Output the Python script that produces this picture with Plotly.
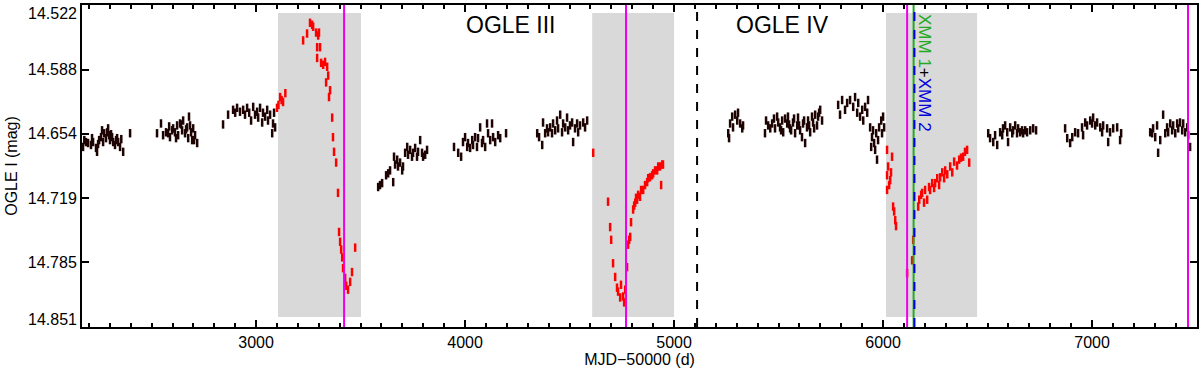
import plotly.graph_objects as go

# OGLE III / IV light curve, MJD-50000 vs I magnitude
# quiescent seasons (dark points)
s1_mjd = [2172, 2178, 2186, 2196, 2210, 2215, 2220, 2234, 2239, 2244, 2249, 2258, 2263, 2268, 2273, 2282,
          2287, 2292, 2297, 2301, 2306, 2311, 2316, 2325, 2330, 2335, 2340, 2349, 2355, 2364, 2397]
s1_mag = [14.667, 14.660, 14.662, 14.663, 14.665, 14.658, 14.662, 14.668, 14.672, 14.664, 14.660, 14.657,
          14.650, 14.662, 14.653, 14.658, 14.652, 14.648, 14.655, 14.660, 14.654, 14.657, 14.662, 14.665,
          14.660, 14.658, 14.662, 14.667, 14.659, 14.672, 14.653]

s2_mjd = [2526, 2545, 2555, 2569, 2579, 2584, 2588, 2598, 2603, 2612, 2617, 2622, 2627, 2636, 2641, 2646,
          2651, 2660, 2665, 2670, 2675, 2679, 2684, 2689, 2694, 2699, 2703, 2708, 2718]
s2_mag = [14.653, 14.643, 14.655, 14.652, 14.653, 14.646, 14.657, 14.650, 14.648, 14.652, 14.658, 14.645,
          14.655, 14.643, 14.644, 14.650, 14.640, 14.653, 14.649, 14.647, 14.658, 14.636, 14.645, 14.652,
          14.660, 14.648, 14.660, 14.655, 14.663]

s3_mjd = [2842, 2866, 2890, 2900, 2909, 2923, 2938, 2947, 2957, 2967, 2976, 2986, 2995, 3005, 3010, 3019,
          3029, 3033, 3043, 3053, 3057, 3067, 3077, 3081, 3086, 3091]
s3_mag = [14.644, 14.634, 14.629, 14.632, 14.627, 14.631, 14.629, 14.634, 14.627, 14.632, 14.640, 14.626,
          14.634, 14.631, 14.637, 14.627, 14.642, 14.632, 14.636, 14.629, 14.640, 14.634, 14.653, 14.643,
          14.632, 14.647]

s4_mjd = [3584, 3593, 3603, 3622, 3632, 3641, 3656, 3660, 3665, 3675, 3679, 3689, 3699, 3703, 3713, 3723,
          3727, 3737, 3746, 3751, 3761, 3770, 3775, 3785, 3794, 3799, 3809, 3818]
s4_mag = [14.708, 14.706, 14.704, 14.696, 14.694, 14.691, 14.703, 14.677, 14.685, 14.680, 14.687, 14.683,
          14.691, 14.687, 14.673, 14.667, 14.675, 14.670, 14.677, 14.673, 14.668, 14.677, 14.672, 14.660,
          14.673, 14.677, 14.675, 14.670]

s5_mjd = [3947, 3967, 3981, 3990, 4000, 4010, 4014, 4024, 4034, 4038, 4048, 4057, 4062, 4072, 4081, 4086,
          4096, 4105, 4110, 4120, 4129, 4134, 4144, 4158, 4168, 4196]
s5_mag = [14.667, 14.673, 14.677, 14.662, 14.657, 14.667, 14.663, 14.668, 14.660, 14.665, 14.657, 14.667,
          14.658, 14.647, 14.663, 14.660, 14.667, 14.643, 14.653, 14.660, 14.643, 14.657, 14.662, 14.655,
          14.658, 14.653]

s6_mjd = [4345, 4354, 4369, 4373, 4383, 4392, 4397, 4407, 4416, 4421, 4431, 4440, 4445, 4455, 4464, 4469,
          4479, 4488, 4493, 4502, 4512, 4517, 4526, 4536, 4541, 4550, 4565, 4574, 4584]
s6_mag = [14.653, 14.657, 14.665, 14.642, 14.653, 14.648, 14.652, 14.647, 14.653, 14.643, 14.650, 14.640,
          14.648, 14.634, 14.652, 14.643, 14.647, 14.637, 14.650, 14.645, 14.642, 14.662, 14.648, 14.643,
          14.652, 14.645, 14.642, 14.647, 14.640]

s7_mjd = [5259, 5263, 5268, 5278, 5282, 5292, 5302, 5306, 5316, 5326, 5330]
s7_mag = [14.653, 14.658, 14.643, 14.636, 14.647, 14.634, 14.640, 14.632, 14.643, 14.648, 14.645]

s8_mjd = [5435, 5440, 5450, 5460, 5469, 5478, 5483, 5493, 5498, 5507, 5512, 5517, 5522, 5531, 5541, 5545,
          5550, 5555, 5560, 5569, 5574, 5579, 5589, 5593, 5598, 5603, 5612, 5617, 5622, 5627, 5636, 5641,
          5646, 5651, 5660, 5665, 5670, 5675, 5684, 5689, 5694, 5699, 5708]
s8_mag = [14.653, 14.640, 14.645, 14.648, 14.643, 14.638, 14.648, 14.636, 14.642, 14.647, 14.650, 14.640,
          14.652, 14.638, 14.643, 14.636, 14.644, 14.648, 14.650, 14.642, 14.638, 14.653, 14.645, 14.637,
          14.645, 14.650, 14.657, 14.643, 14.640, 14.663, 14.647, 14.640, 14.645, 14.652, 14.636, 14.642,
          14.648, 14.634, 14.645, 14.636, 14.632, 14.629, 14.640]

s9_mjd = [5785, 5794, 5804, 5818, 5828, 5842, 5857, 5866, 5876, 5881, 5890, 5900, 5905, 5914, 5924, 5928,
          5938, 5943, 5947, 5952, 5957, 5962, 5967, 5971, 5976, 5981, 5991, 5995, 6000, 6005]
s9_mag = [14.624, 14.634, 14.619, 14.629, 14.622, 14.619, 14.626, 14.616, 14.632, 14.622, 14.636, 14.629,
          14.640, 14.626, 14.632, 14.619, 14.647, 14.667, 14.657, 14.650, 14.663, 14.670, 14.653, 14.680,
          14.660, 14.647, 14.640, 14.653, 14.636, 14.647]

s10_mjd = [6503, 6512, 6527, 6536, 6546, 6560, 6570, 6574, 6584, 6594, 6598, 6608, 6618, 6622, 6632, 6641,
           6646, 6656, 6665, 6670, 6680, 6689, 6704, 6718, 6732]
s10_mag = [14.653, 14.658, 14.662, 14.655, 14.665, 14.652, 14.655, 14.648, 14.645, 14.652, 14.662, 14.647,
           14.653, 14.650, 14.645, 14.653, 14.648, 14.652, 14.650, 14.653, 14.650, 14.652, 14.650, 14.648,
           14.650]

s11_mjd = [6871, 6881, 6895, 6905, 6919, 6933, 6952, 6957, 6967, 6976, 6991, 7000, 7005, 7015, 7024, 7039,
           7048, 7053, 7072, 7077, 7086, 7101, 7120, 7134, 7139]
s11_mag = [14.648, 14.658, 14.663, 14.657, 14.652, 14.653, 14.647, 14.655, 14.642, 14.645, 14.640, 14.643,
           14.637, 14.645, 14.642, 14.647, 14.652, 14.645, 14.648, 14.662, 14.652, 14.648, 14.647, 14.660,
           14.653]

s12_mjd = [7278, 7287, 7292, 7302, 7311, 7316, 7326, 7340, 7350, 7359, 7364, 7374, 7383, 7388, 7398, 7407,
           7412, 7421, 7431, 7436, 7445, 7455, 7460, 7469]
s12_mag = [14.652, 14.653, 14.648, 14.657, 14.645, 14.673, 14.660, 14.634, 14.653, 14.647, 14.652, 14.643,
           14.650, 14.645, 14.653, 14.643, 14.648, 14.642, 14.650, 14.643, 14.652, 14.647, 14.655, 14.667]

# outburst / dip episodes (red points)
o1_mjd = [3100, 3107, 3115, 3122, 3129, 3140, 3225, 3244, 3258, 3268, 3273, 3287, 3297, 3301, 3292, 3306,
          3292, 3311, 3321, 3330, 3340, 3335, 3345, 3354, 3349, 3364, 3368, 3373, 3383, 3392, 3397, 3402,
          3407, 3412, 3416, 3426, 3431, 3440, 3450, 3459, 3474]
o1_mag = [14.627, 14.624, 14.616, 14.619, 14.621, 14.612, 14.558, 14.551, 14.540, 14.542, 14.544, 14.550,
          14.553, 14.550, 14.565, 14.565, 14.576, 14.581, 14.583, 14.580, 14.585, 14.601, 14.594, 14.609,
          14.616, 14.637, 14.657, 14.672, 14.683, 14.714, 14.754, 14.764, 14.772, 14.780, 14.791, 14.801,
          14.809, 14.813, 14.805, 14.795, 14.770]

o2_mjd = [4613, 4684, 4694, 4699, 4708, 4718, 4727, 4732, 4742, 4746, 4756, 4761, 4766, 4775, 4780, 4785,
          4790, 4794, 4804, 4809, 4814, 4818, 4823, 4828, 4837, 4842, 4852, 4861, 4871, 4876, 4885, 4895,
          4900, 4909, 4919, 4924, 4933, 4938, 4943, 4947]
o2_mag = [14.673, 14.723, 14.749, 14.762, 14.786, 14.800, 14.811, 14.815, 14.821, 14.808, 14.820, 14.826,
          14.813, 14.790, 14.767, 14.762, 14.759, 14.744, 14.731, 14.727, 14.724, 14.719, 14.721, 14.716,
          14.718, 14.711, 14.711, 14.706, 14.703, 14.699, 14.698, 14.696, 14.694, 14.691, 14.691, 14.687,
          14.687, 14.706, 14.685, 14.685]

o3_mjd = [6019, 6019, 6024, 6029, 6034, 6038, 6043, 6019, 6048, 6053, 6058, 6062, 6115, 6139, 6144, 6168,
          6173, 6182, 6187, 6196, 6201, 6211, 6220, 6225, 6235, 6244, 6249, 6259, 6268, 6273, 6283, 6292,
          6297, 6307, 6321, 6331, 6340, 6354, 6364, 6373, 6383, 6392, 6402, 6412]
o3_mag = [14.670, 14.696, 14.687, 14.706, 14.701, 14.693, 14.677, 14.711, 14.728, 14.733, 14.742, 14.748,
          14.796, 14.783, 14.762, 14.728, 14.721, 14.716, 14.714, 14.724, 14.711, 14.721, 14.708, 14.711,
          14.704, 14.709, 14.704, 14.699, 14.706, 14.698, 14.693, 14.699, 14.691, 14.695, 14.687, 14.693,
          14.682, 14.686, 14.680, 14.678, 14.677, 14.672, 14.670, 14.683]

# shaded intervals, event epochs
shade_x0 = [3105, 4608, 6014]
shade_x1 = [3502, 5000, 6450]
shade_y = [14.530, 14.841]
periastron = [3421, 4770, 6115, 7459]
ogle_switch = 5110
xmm1, xmm2 = 6146, 6150

y_ticks = [14.522, 14.5878, 14.6536, 14.7194, 14.7852, 14.851]
y_labels = ["14.522", "14.588", "14.654", "14.719", "14.785", "14.851"]

black_mjd = s1_mjd + s2_mjd + s3_mjd + s4_mjd + s5_mjd + s6_mjd + s7_mjd + s8_mjd + s9_mjd + s10_mjd + s11_mjd + s12_mjd
black_mag = s1_mag + s2_mag + s3_mag + s4_mag + s5_mag + s6_mag + s7_mag + s8_mag + s9_mag + s10_mag + s11_mag + s12_mag
red_mjd = o1_mjd + o2_mjd + o3_mjd
red_mag = o1_mag + o2_mag + o3_mag

FONT = "Liberation Sans, Helvetica, Arial, sans-serif"

fig = go.Figure()

for x0, x1 in zip(shade_x0, shade_x1):
    fig.add_shape(type="rect", x0=x0, x1=x1, y0=shade_y[0], y1=shade_y[1],
                  fillcolor="#d9d9d9", line_width=0, layer="below")

fig.add_trace(go.Scatter(
    x=black_mjd, y=black_mag, mode="markers",
    marker=dict(symbol="line-ns", size=6, line=dict(width=2.5, color="#1e0303")),
    showlegend=False,
))
fig.add_trace(go.Scatter(
    x=red_mjd, y=red_mag, mode="markers",
    marker=dict(symbol="line-ns", size=6, line=dict(width=2.5, color="#ff0000")),
    showlegend=False,
))

for p in periastron:
    fig.add_shape(type="line", x0=p, x1=p, y0=0, y1=1, yref="paper",
                  line=dict(color="#ee00ee", width=2))
fig.add_shape(type="line", x0=ogle_switch, x1=ogle_switch, y0=0, y1=1, yref="paper",
              line=dict(color="black", width=2, dash="dash"))
fig.add_shape(type="line", x0=xmm1, x1=xmm1, y0=0, y1=1, yref="paper",
              line=dict(color="#22aa22", width=2))
fig.add_shape(type="line", x0=xmm2, x1=xmm2, y0=0, y1=1, yref="paper",
              line=dict(color="#0000dd", width=2, dash="dash"))

fig.add_annotation(x=4215, y=14.5425, text="OGLE III", showarrow=False,
                   font=dict(size=23, color="black", family=FONT))
fig.add_annotation(x=5520, y=14.5425, text="OGLE IV", showarrow=False,
                   font=dict(size=23, color="black", family=FONT))
fig.add_annotation(x=6201, y=0.978, yref="paper", yanchor="top", textangle=90, showarrow=False,
                   text='<span style="color:#22aa22">XMM 1</span>+<span style="color:#0000dd">XMM 2</span>',
                   font=dict(size=17, color="black", family=FONT))

# end labels of the magnitude axis sit just inside the frame
fig.add_annotation(x=0, xref="paper", xanchor="right", xshift=-3, y=1, yref="paper", yanchor="top",
                   yshift=2, text=y_labels[0], showarrow=False, font=dict(size=16, color="black", family=FONT))
fig.add_annotation(x=0, xref="paper", xanchor="right", xshift=-3, y=0, yref="paper", yanchor="bottom",
                   yshift=-3, text=y_labels[-1], showarrow=False, font=dict(size=16, color="black", family=FONT))

axis_common = dict(showline=True, linewidth=2, linecolor="black", mirror="allticks",
                   ticks="inside", tickcolor="black", tickwidth=1.5, showgrid=False, zeroline=False,
                   automargin=False, tickfont=dict(size=16, color="black", family=FONT))

fig.update_xaxes(range=[2167, 7502], tickvals=[3000, 4000, 5000, 6000, 7000], ticklen=7,
                 minor=dict(ticks="inside", dtick=100, tick0=0, ticklen=4, tickcolor="black", showgrid=False),
                 title=dict(text="MJD\u221250000 (d)", font=dict(size=16, color="black", family=FONT), standoff=2),
                 **axis_common)
fig.update_yaxes(range=[14.8512, 14.5218], tickvals=y_ticks, ticktext=[""] + y_labels[1:-1] + [""], ticklen=7,
                 title=dict(text="OGLE I (mag)", font=dict(size=16, color="black", family=FONT), standoff=6),
                 **axis_common)

fig.update_layout(
    width=1200, height=371,
    margin=dict(l=82, r=3, t=5, b=44),
    plot_bgcolor="white", paper_bgcolor="white",
    showlegend=False,
)

# the page's default body margin would shift the figure; remove it
fig.write_html("out.html", config={"displayModeBar": False},
               post_script="document.body.style.margin='0';")
